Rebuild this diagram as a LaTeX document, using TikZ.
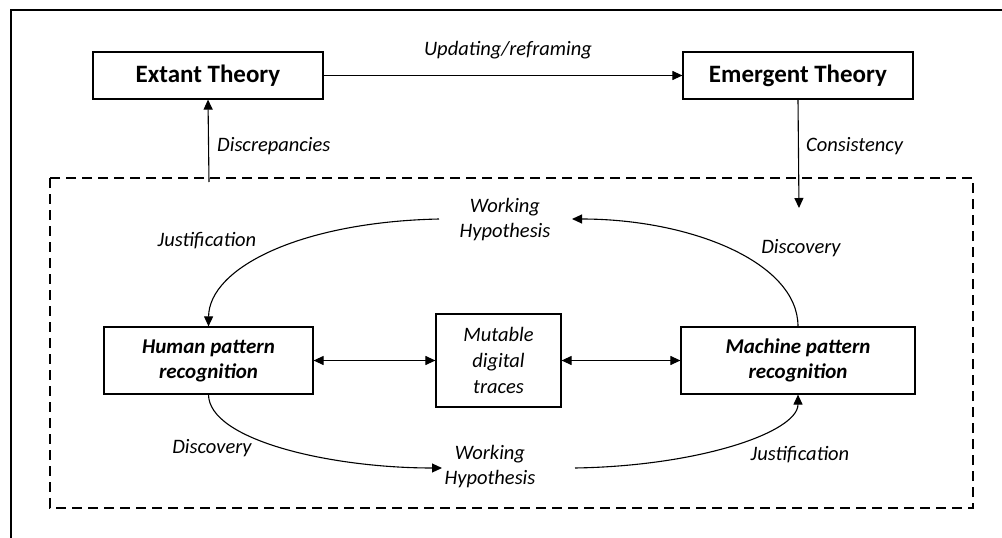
\documentclass[tikz,border=0pt]{standalone}
\usepackage{fontspec}
\setmainfont{Carlito}
\usetikzlibrary{arrows.meta}
\begin{document}
\begin{tikzpicture}[x=1pt,y=-1pt,
  box/.style={draw,line width=1.2pt,inner sep=0pt,align=center},
  theory/.style={box,minimum width=230pt,minimum height=47pt,font=\fontsize{25}{30}\selectfont\bfseries},
  prbox/.style={box,minimum height=67pt,font=\fontsize{21}{25}\selectfont\bfseries\itshape},
  lbl/.style={font=\fontsize{20.5}{25}\selectfont\itshape,align=center,inner sep=0pt},
  conn/.style={line width=1.1pt,-{Triangle[length=10pt,width=9pt]}},
  dconn/.style={line width=1.1pt,{Triangle[length=10pt,width=9pt]}-{Triangle[length=10pt,width=9pt]}}
]
\useasboundingbox (0,0) rectangle (1002,538);
% outer frame (left and top edges)
\draw[line width=2pt] (11,538) -- (11,10) -- (1002,10);
% dashed region
\draw[line width=2.5pt,dash pattern=on 10pt off 6pt] (50,178) rectangle (973,508);

\node[theory] (ext) at (208,75.5) {Extant Theory};
\node[theory] (emg) at (798,75.5) {Emergent Theory};
\node[prbox,minimum width=209pt] (hum) at (208.5,360.5) {Human pattern\\recognition};
\node[box,minimum width=125pt,minimum height=93pt,font=\fontsize{20.5}{26}\selectfont\itshape] (mut) at (498.5,360.5) {Mutable\\digital\\traces};
\node[prbox,minimum width=234pt] (mac) at (798,360.5) {Machine pattern\\recognition};

\node[lbl] (upd) at (508,50) {Updating/reframing};
\node[lbl,anchor=west] (dis) at (217,146) {Discrepancies};
\node[lbl,anchor=west] (con) at (806,146) {Consistency};
\node[lbl] (wht) at (505,220) {Working\\Hypothesis};
\node[lbl] (whb) at (490,467) {Working\\Hypothesis};
\node[lbl] (jt) at (207,241) {Justification};
\node[lbl] (dt) at (801,248) {Discovery};
\node[lbl] (db) at (212,448) {Discovery};
\node[lbl] (jb) at (800,455) {Justification};

\coordinate (disstart) at (209,182);
\coordinate (conend) at (799,208);
\coordinate (wht-r) at (572,219);
\coordinate (wht-l) at (439,219);
\coordinate (whb-l) at (442,468);
\coordinate (whb-r) at (575,468);

\draw[conn] (ext.east) -- (emg.west);
\draw[conn] (disstart) -- (ext.south);
\draw[conn] (emg.south) -- (conend);
\draw[dconn] (hum.east) -- (mut.west);
\draw[dconn] (mut.east) -- (mac.west);

\draw[conn] (mac.north) .. controls (798,262) and (690,219) .. (wht-r);
\draw[conn] (wht-l) .. controls (300,222) and (209,268) .. (hum.north);
\draw[conn] (hum.south) .. controls (209,440) and (330,468) .. (whb-l);
\draw[conn] (whb-r) .. controls (700,466) and (798,432) .. (mac.south);
\end{tikzpicture}
\end{document}
